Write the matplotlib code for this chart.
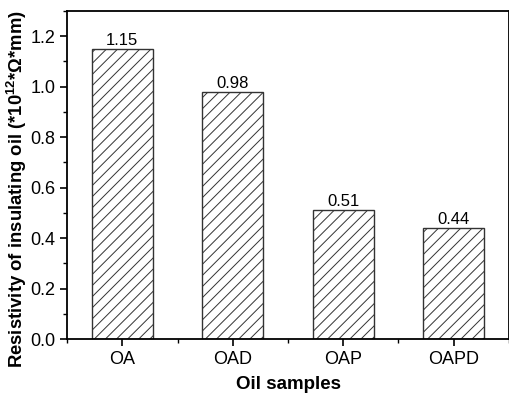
import matplotlib.pyplot as plt
from matplotlib.ticker import MultipleLocator

plt.rcParams['font.family'] = ['Liberation Sans', 'DejaVu Sans']
plt.rcParams['mathtext.fontset'] = 'custom'
plt.rcParams['mathtext.rm'] = 'Liberation Sans'
plt.rcParams['mathtext.bf'] = 'Liberation Sans:bold'
plt.rcParams['hatch.linewidth'] = 0.7
plt.rcParams['hatch.color'] = '#555555'

samples = ['OA', 'OAD', 'OAP', 'OAPD']
resistivity = [1.15, 0.98, 0.51, 0.44]

fig = plt.figure(figsize=(5.10, 3.99), dpi=100)
ax = fig.add_axes([67 / 510, 1 - 339 / 399, 442 / 510, 328 / 399])

x = list(range(len(samples)))
bars = ax.bar(x, resistivity, width=0.55, color='white', edgecolor='#333333',
              linewidth=1.0, hatch='///')
for xi, v in zip(x, resistivity):
    ax.text(xi, v + 0.004, f'{v:.2f}', ha='center', va='bottom', fontsize=12)

ax.set_xlim(-0.5, 3.5)
ax.set_ylim(0, 1.3)
ax.set_xticks(x)
ax.set_xticklabels(samples)
ax.xaxis.set_minor_locator(MultipleLocator(1, offset=0.5))
ax.yaxis.set_major_locator(MultipleLocator(0.2))
ax.yaxis.set_minor_locator(MultipleLocator(0.1))
ax.yaxis.set_major_formatter(plt.FuncFormatter(lambda v, p: f'{v:.1f}'))
ax.tick_params(which='major', direction='out', length=5, width=1.2, labelsize=13)
ax.tick_params(which='minor', direction='out', length=3, width=1.0)
for s in ax.spines.values():
    s.set_linewidth(1.3)

ax.set_xlabel('Oil samples', fontsize=13.5, fontweight='bold', labelpad=6)
ax.set_ylabel(r'Resistivity of insulating oil (*10$^{\mathbf{12}}$*Ω*mm)', fontsize=13.3,
              fontweight='bold')
ax.yaxis.set_label_coords(-0.086, 0.457)

fig.savefig('out.png', dpi=100)
